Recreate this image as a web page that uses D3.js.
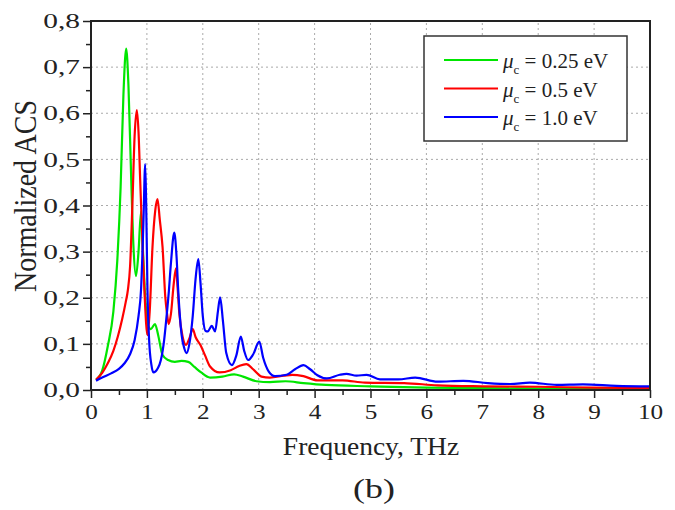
<!DOCTYPE html>
<html>
<head>
<meta charset="utf-8">
<script src="https://cdn.jsdelivr.net/npm/d3@7"></script>
<style>
  html, body { margin: 0; padding: 0; background: #fff; }
  svg text { font-family: "Liberation Serif", "Times New Roman", serif; fill: #222; }
</style>
</head>
<body>
<svg id="chart"></svg>
<script>
(function() {
    'use strict';

    var WIDTH = 675, HEIGHT = 510;
    var margin = { top: 21, right: 25, bottom: 120, left: 91 };

    // frequency (THz), normalized ACS
    var green = [
        [0.09, 0.022], [0.2, 0.042], [0.3, 0.095], [0.4, 0.17], [0.47, 0.28], [0.53, 0.44],
        [0.58, 0.64], [0.63, 0.74], [0.67, 0.66], [0.72, 0.455], [0.76, 0.31], [0.805, 0.247],
        [0.85, 0.3], [0.895, 0.387], [0.93, 0.3], [0.97, 0.2], [1.02, 0.14], [1.07, 0.132],
        [1.145, 0.143], [1.2, 0.12], [1.28, 0.076], [1.38, 0.065], [1.5, 0.061], [1.62, 0.063],
        [1.74, 0.061], [1.85, 0.05], [1.97, 0.038], [2.13, 0.027], [2.35, 0.029], [2.56, 0.034],
        [2.72, 0.029], [2.96, 0.019], [3.2, 0.017], [3.48, 0.019], [3.8, 0.015], [4.2, 0.011],
        [5.0, 0.008], [6.0, 0.005], [7.0, 0.004], [8.0, 0.003], [9.0, 0.003], [10.0, 0.002]
    ];
    var red = [
        [0.09, 0.022], [0.2, 0.037], [0.3, 0.058], [0.4, 0.085], [0.48, 0.116], [0.56, 0.155],
        [0.62, 0.19], [0.66, 0.217], [0.7, 0.27], [0.74, 0.4], [0.78, 0.55], [0.82, 0.607],
        [0.85, 0.56], [0.88, 0.455], [0.92, 0.32], [0.955, 0.217], [1.01, 0.119], [1.05, 0.17],
        [1.1, 0.31], [1.15, 0.39], [1.19, 0.414], [1.23, 0.37], [1.28, 0.31], [1.33, 0.2],
        [1.36, 0.166], [1.39, 0.143], [1.43, 0.165], [1.48, 0.23], [1.52, 0.264], [1.55, 0.22],
        [1.58, 0.166], [1.64, 0.115], [1.7, 0.098], [1.76, 0.112], [1.82, 0.132], [1.87, 0.115],
        [1.96, 0.097], [2.04, 0.075], [2.13, 0.051], [2.3, 0.038], [2.5, 0.043], [2.65, 0.052],
        [2.78, 0.056], [2.9, 0.045], [3.05, 0.029], [3.2, 0.027], [3.45, 0.031], [3.6, 0.033],
        [3.8, 0.03], [4.05, 0.021], [4.5, 0.021], [4.9, 0.016], [5.6, 0.015], [6.2, 0.01],
        [7.0, 0.008], [8.0, 0.007], [9.0, 0.005], [10.0, 0.004]
    ];
    var blue = [
        [0.09, 0.02], [0.2, 0.027], [0.36, 0.036], [0.5, 0.046], [0.6, 0.058], [0.7, 0.078],
        [0.78, 0.108], [0.85, 0.16], [0.895, 0.217], [0.937, 0.36], [0.97, 0.49], [0.99, 0.38],
        [1.01, 0.217], [1.04, 0.108], [1.08, 0.055], [1.115, 0.038], [1.2, 0.048], [1.25, 0.065],
        [1.31, 0.11], [1.34, 0.145], [1.39, 0.21], [1.43, 0.275], [1.49, 0.341], [1.53, 0.29],
        [1.56, 0.217], [1.62, 0.12], [1.67, 0.09], [1.71, 0.08], [1.76, 0.1], [1.82, 0.16],
        [1.87, 0.24], [1.92, 0.284], [1.96, 0.23], [2.0, 0.16], [2.05, 0.128], [2.09, 0.127],
        [2.16, 0.139], [2.22, 0.127], [2.27, 0.17], [2.31, 0.201], [2.36, 0.15], [2.42, 0.08],
        [2.52, 0.054], [2.6, 0.075], [2.68, 0.116], [2.74, 0.085], [2.81, 0.065], [2.9, 0.077],
        [3.01, 0.105], [3.08, 0.07], [3.18, 0.04], [3.29, 0.03], [3.5, 0.033], [3.65, 0.045],
        [3.8, 0.054], [3.92, 0.045], [4.05, 0.032], [4.22, 0.025], [4.45, 0.033], [4.57, 0.035],
        [4.75, 0.031], [4.93, 0.033], [5.17, 0.023], [5.5, 0.023], [5.8, 0.027], [6.2, 0.018],
        [6.66, 0.02], [7.1, 0.015], [7.5, 0.013], [7.85, 0.016], [8.33, 0.011], [8.8, 0.012],
        [9.4, 0.009], [10.0, 0.008]
    ];

    var seriesLabels = ['0.25 eV', '0.5 eV', '1.0 eV'];
    var seriesColors = ['#00e600', '#ff0000', '#0000ff'];
    var xTicks = d3.range(0, 11);
    var yTicks = [0, 0.1, 0.2, 0.3, 0.4, 0.5, 0.6, 0.7, 0.8];

    var svg = d3.select('#chart').attr('width', WIDTH).attr('height', HEIGHT);

    var x = d3.scaleLinear().domain([0, 10]).range([margin.left, WIDTH - margin.right]);
    var y = d3.scaleLinear().domain([0, 0.8]).range([HEIGHT - margin.bottom, margin.top]);

    var fmt = v => d3.format('.1f')(v).replace('.', ',');

    // dotted grid at major ticks
    var grid = svg.append('g').attr('stroke', '#aaa').attr('stroke-width', 1).attr('stroke-dasharray', '2,3');
    grid.selectAll('.gx').data(xTicks.slice(1, -1)).enter().append('line')
        .attr('x1', d => x(d)).attr('x2', d => x(d))
        .attr('y1', y(0)).attr('y2', y(0.8));
    grid.selectAll('.gy').data(yTicks.slice(1, -1)).enter().append('line')
        .attr('x1', x(0)).attr('x2', x(10))
        .attr('y1', d => y(d)).attr('y2', d => y(d));

    // curves
    var line = d3.line()
        .x(d => x(d[0]))
        .y(d => y(d[1]))
        .curve(d3.curveMonotoneX);

    [green, red, blue].forEach(function(s, i) {
        svg.append('path')
            .datum(s)
            .attr('fill', 'none')
            .attr('stroke', seriesColors[i])
            .attr('stroke-width', 2.2)
            .attr('d', line);
    });

    // axes: minor and major ticks
    var xMinor = svg.append('g').attr('transform', 'translate(0,' + y(0) + ')')
        .call(d3.axisBottom(x).tickValues(d3.range(0.5, 10, 1)).tickSize(5).tickFormat(''));
    var xMajor = svg.append('g').attr('transform', 'translate(0,' + y(0) + ')')
        .call(d3.axisBottom(x).tickValues(xTicks).tickSize(8).tickPadding(6).tickFormat(d3.format('d')));
    var yMinor = svg.append('g').attr('transform', 'translate(' + x(0) + ',0)')
        .call(d3.axisLeft(y).tickValues(d3.range(0.05, 0.8, 0.1)).tickSize(5).tickFormat(''));
    var yMajor = svg.append('g').attr('transform', 'translate(' + x(0) + ',0)')
        .call(d3.axisLeft(y).tickValues(yTicks).tickSize(8).tickPadding(3).tickFormat(fmt));

    [xMinor, xMajor, yMinor, yMajor].forEach(function(g) {
        g.select('.domain').remove();
        g.selectAll('line').attr('stroke', '#222').attr('stroke-width', 1.5);
    });
    xMajor.selectAll('text')
        .attr('font-size', 21)
        .attr('transform', 'scale(1.2,1)')
        .attr('x', 0);
    yMajor.selectAll('text')
        .attr('font-size', 21)
        .attr('transform', 'scale(1.4,1)')
        .attr('x', -11 / 1.4);

    // frame
    svg.append('rect')
        .attr('x', x(0)).attr('y', y(0.8))
        .attr('width', x(10) - x(0)).attr('height', y(0) - y(0.8))
        .attr('fill', 'none').attr('stroke', '#222').attr('stroke-width', 2);

    // legend
    var legend = svg.append('g').attr('transform', 'translate(424,36)');
    legend.append('rect')
        .attr('width', 203).attr('height', 105)
        .attr('fill', '#fff').attr('stroke', '#333').attr('stroke-width', 1.5);
    seriesLabels.forEach(function(lab, i) {
        var row = legend.append('g').attr('transform', 'translate(0,' + (24 + i * 28.5) + ')');
        row.append('line').attr('x1', 20).attr('x2', 74)
            .attr('stroke', seriesColors[i]).attr('stroke-width', 2.2);
        var t = row.append('text').attr('x', 79).attr('y', 8).attr('font-size', 21);
        t.append('tspan').attr('font-style', 'italic').text('\u03bc');
        t.append('tspan').attr('font-size', 13).attr('dy', 6).text('c');
        t.append('tspan').attr('dy', -6).text(' = ' + lab);
    });

    // axis titles
    svg.append('text')
        .attr('transform', 'translate(371,455) scale(1.1,1)')
        .attr('text-anchor', 'middle').attr('font-size', 25)
        .text('Frequency, THz');
    svg.append('text')
        .attr('transform', 'translate(374,498) scale(1.33,1)')
        .attr('text-anchor', 'middle').attr('font-size', 27)
        .text('(b)');
    svg.append('text')
        .attr('transform', 'translate(36,196) scale(1.15,1) rotate(-90)')
        .attr('text-anchor', 'middle').attr('font-size', 28)
        .text('Normalized ACS');
})();
</script>
</body>
</html>
